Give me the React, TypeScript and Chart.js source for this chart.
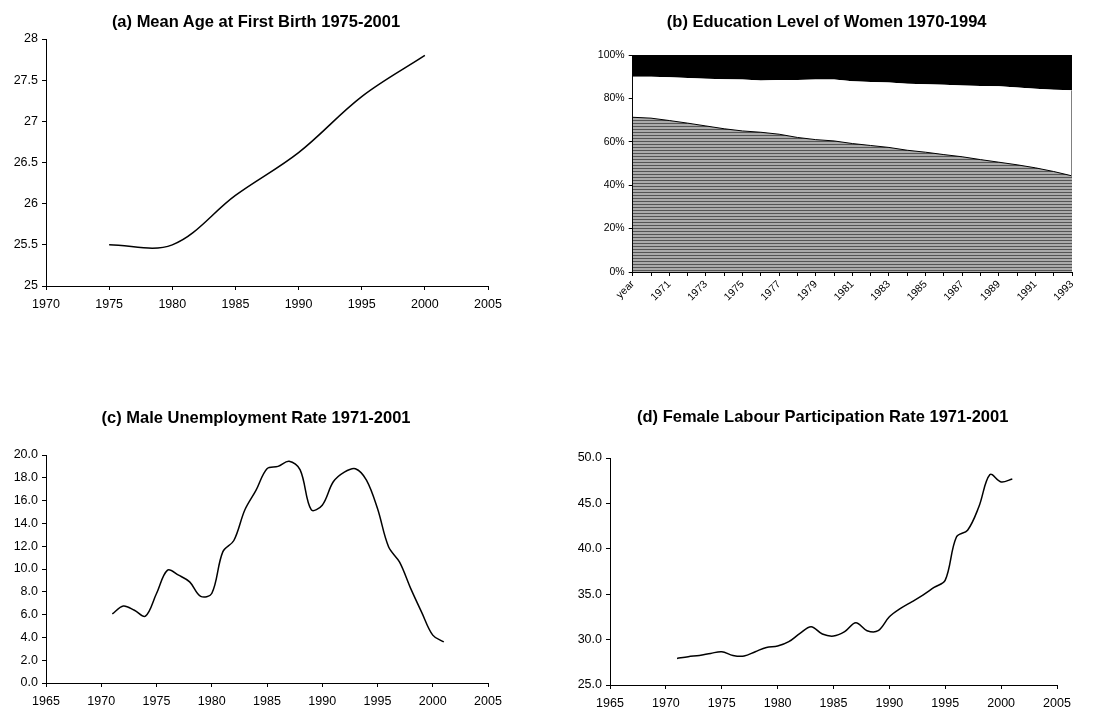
import React, { useEffect, useRef } from 'react';
import { Chart, registerables } from 'chart.js';

Chart.register(...registerables);

// ---------- (a) Mean age at first birth ----------
const ageYears = [1975, 1980, 1985, 1990, 1995, 2000];
const ageValues = [25.5, 25.5, 26.1, 26.62, 27.3, 27.8];

// ---------- (b) Education level of women (percent shares) ----------
const eduCategories = [
  'year', '1970', '1971', '1972', '1973', '1974', '1975', '1976', '1977', '1978', '1979', '1980',
  '1981', '1982', '1983', '1984', '1985', '1986', '1987', '1988', '1989', '1990', '1991', '1992', '1993',
];
const eduLowShare = [
  71.3, 70.9, 69.8, 68.6, 67.3, 66.0, 65.0, 64.4, 63.5, 62.0, 61.0, 60.4, 59.2,
  58.3, 57.4, 56.1, 55.2, 54.1, 53.1, 51.8, 50.6, 49.4, 48.0, 46.3, 44.3,
];
const eduMidShare = [
  18.7, 19.1, 19.9, 20.8, 21.8, 22.8, 23.7, 23.9, 25.0, 26.5, 27.7, 28.3, 28.7,
  29.3, 29.9, 30.6, 31.3, 32.2, 32.9, 33.9, 35.0, 35.6, 36.5, 37.7, 39.4,
];
const eduHighShare = [
  10.0, 10.0, 10.3, 10.6, 10.9, 11.2, 11.3, 11.7, 11.5, 11.5, 11.3, 11.3, 12.1,
  12.4, 12.7, 13.3, 13.5, 13.7, 14.0, 14.3, 14.4, 15.0, 15.5, 16.0, 16.3,
];
const eduTicks = [0, 20, 40, 60, 80, 100];

// ---------- (c) Male unemployment rate ----------
const unempYears = [
  1971, 1972, 1973, 1974, 1975, 1976, 1977, 1978, 1979, 1980, 1981, 1982, 1983, 1984, 1985, 1986,
  1987, 1988, 1989, 1990, 1991, 1992, 1993, 1994, 1995, 1996, 1997, 1998, 1999, 2000, 2001,
];
const unempValues = [
  6.06, 6.76, 6.38, 5.86, 7.85, 9.9, 9.46, 8.87, 7.6, 7.85, 11.5, 12.5, 15.2, 16.9, 18.8, 19.0,
  19.45, 18.7, 15.2, 15.6, 17.65, 18.5, 18.8, 17.8, 15.3, 11.95, 10.6, 8.3, 6.2, 4.2, 3.6,
];

// ---------- (d) Female labour participation rate ----------
const flprYears = [
  1971, 1972, 1973, 1974, 1975, 1976, 1977, 1978, 1979, 1980, 1981, 1982, 1983, 1984, 1985, 1986,
  1987, 1988, 1989, 1990, 1991, 1992, 1993, 1994, 1995, 1996, 1997, 1998, 1999, 2000, 2001,
];
const flprValues = [
  27.93, 28.12, 28.26, 28.48, 28.67, 28.26, 28.19, 28.67, 29.14, 29.29, 29.77, 30.68, 31.41, 30.61,
  30.39, 30.87, 31.85, 30.98, 30.98, 32.51, 33.43, 34.16, 34.9, 35.74, 36.55, 41.3, 42.05, 44.6,
  48.17, 47.36, 47.69,
];

const FONT_FAMILY = '"Liberation Sans", Arial, Helvetica, sans-serif';

const axisGrid = {
  display: true,
  drawOnChartArea: false,
  drawTicks: true,
  tickLength: 4,
  color: '#000',
  lineWidth: 1,
};
const axisBorder = { display: true, color: '#000', width: 1 };

const fixWidth = (w: number) => (scale: any) => {
  scale.width = w;
};
const fixHeight = (h: number) => (scale: any) => {
  scale.height = h;
};

function lineConfig(opts: {
  xs: number[];
  ys: number[];
  xMin: number;
  xMax: number;
  yMin: number;
  yMax: number;
  yStep: number;
  yFmt: (v: number) => string;
  padTop: number;
  padRight: number;
  yWidth: number;
  xHeight: number;
}) {
  return {
    type: 'line',
    data: {
      datasets: [
        {
          data: opts.xs.map((x, i) => ({ x, y: opts.ys[i] })),
          borderColor: '#000',
          borderWidth: 1.5,
          pointRadius: 0,
          tension: 0.35,
          fill: false,
        },
      ],
    },
    options: {
      animation: false,
      responsive: false,
      devicePixelRatio: 1,
      layout: { padding: { top: opts.padTop, right: opts.padRight, left: 0, bottom: 0 } },
      plugins: { legend: { display: false }, title: { display: false }, tooltip: { enabled: false } },
      scales: {
        x: {
          type: 'linear',
          min: opts.xMin,
          max: opts.xMax,
          grid: axisGrid,
          border: axisBorder,
          afterFit: fixHeight(opts.xHeight),
          ticks: {
            stepSize: 5,
            color: '#000',
            padding: 7,
            maxRotation: 0,
            font: { family: FONT_FAMILY, size: 12.5 },
            callback: (v: any) => String(v),
          },
        },
        y: {
          type: 'linear',
          min: opts.yMin,
          max: opts.yMax,
          grid: axisGrid,
          border: axisBorder,
          afterFit: fixWidth(opts.yWidth),
          ticks: {
            stepSize: opts.yStep,
            color: '#000',
            padding: 4,
            font: { family: FONT_FAMILY, size: 12.5 },
            callback: (v: any) => opts.yFmt(Number(v)),
          },
        },
      },
    },
  };
}

function makeStripePattern() {
  const c = document.createElement('canvas');
  c.width = 4;
  c.height = 3;
  const ctx = c.getContext('2d')!;
  ctx.fillStyle = '#ababab';
  ctx.fillRect(0, 0, 4, 3);
  ctx.fillStyle = '#555555';
  ctx.fillRect(0, 0, 4, 1);
  return ctx.createPattern(c, 'repeat');
}

const rightEdgePlugin = {
  id: 'rightEdge',
  afterDatasetsDraw(chart: any) {
    const { ctx, chartArea, scales } = chart;
    const last = eduLowShare.length - 1;
    const yLow = scales.y.getPixelForValue(eduLowShare[last]);
    const yUp = scales.y.getPixelForValue(eduLowShare[last] + eduMidShare[last]);
    ctx.save();
    ctx.strokeStyle = '#808080';
    ctx.lineWidth = 1;
    ctx.beginPath();
    ctx.moveTo(chartArea.right - 0.5, yUp);
    ctx.lineTo(chartArea.right - 0.5, yLow);
    ctx.stroke();
    ctx.restore();
  },
};

function eduConfig() {
  const stripes = makeStripePattern();
  return {
    type: 'line',
    data: {
      labels: eduCategories,
      datasets: [
        {
          data: eduLowShare,
          backgroundColor: stripes,
          borderColor: '#000',
          borderWidth: 1,
          pointRadius: 0,
          tension: 0,
          fill: 'origin',
        },
        {
          data: eduMidShare,
          backgroundColor: '#ffffff',
          borderColor: 'rgba(0,0,0,0)',
          borderWidth: 0,
          pointRadius: 0,
          tension: 0,
          fill: '-1',
        },
        {
          data: eduHighShare,
          backgroundColor: '#000000',
          borderColor: 'rgba(0,0,0,0)',
          borderWidth: 0,
          pointRadius: 0,
          tension: 0,
          fill: '-1',
        },
      ],
    },
    plugins: [rightEdgePlugin],
    options: {
      animation: false,
      responsive: false,
      devicePixelRatio: 1,
      layout: { padding: { top: 55, right: 27, left: 0, bottom: 0 } },
      plugins: { legend: { display: false }, title: { display: false }, tooltip: { enabled: false } },
      scales: {
        x: {
          type: 'category',
          offset: false,
          grid: axisGrid,
          border: axisBorder,
          afterFit: fixHeight(58),
          ticks: {
            autoSkip: false,
            minRotation: 45,
            maxRotation: 45,
            padding: 2,
            color: '#000',
            font: { family: FONT_FAMILY, size: 10.5 },
            callback: (_v: any, i: number) => (i % 2 === 0 ? eduCategories[i] : ''),
          },
        },
        y: {
          stacked: true,
          min: 0,
          max: 100,
          grid: axisGrid,
          border: axisBorder,
          afterFit: fixWidth(82.7),
          afterBuildTicks: (scale: any) => {
            scale.ticks = eduTicks.map((v) => ({ value: v }));
          },
          ticks: {
            color: '#000',
            padding: 4,
            font: { family: FONT_FAMILY, size: 10.5 },
            callback: (v: any) => `${v}%`,
          },
        },
      },
    },
  };
}

function Panel(props: { left: number; top: number; width: number; height: number; makeConfig: () => any }) {
  const ref = useRef<HTMLCanvasElement>(null);
  useEffect(() => {
    const chart = new Chart(ref.current as HTMLCanvasElement, props.makeConfig());
    return () => chart.destroy();
  }, []);
  return (
    <canvas
      ref={ref}
      width={props.width}
      height={props.height}
      style={{ position: 'absolute', left: props.left, top: props.top, width: props.width, height: props.height }}
    />
  );
}

function Title(props: { cx: number; cy: number; text: string }) {
  return (
    <div
      style={{
        position: 'absolute',
        left: props.cx - 300,
        top: props.cy - 10,
        width: 600,
        height: 20,
        lineHeight: '20px',
        textAlign: 'center',
        fontFamily: FONT_FAMILY,
        fontWeight: 'bold',
        fontSize: 16.5,
        color: '#000',
        whiteSpace: 'nowrap',
      }}
    >
      {props.text}
    </div>
  );
}

export default function App() {
  return (
    <div style={{ position: 'absolute', left: 0, top: 0, width: 1099, height: 712, background: '#fff', overflow: 'hidden' }}>
      <Panel
        left={0}
        top={0}
        width={550}
        height={330}
        makeConfig={() =>
          lineConfig({
            xs: ageYears,
            ys: ageValues,
            xMin: 1970,
            xMax: 2005,
            yMin: 25,
            yMax: 28,
            yStep: 0.5,
            yFmt: (v) => String(v),
            padTop: 39,
            padRight: 62,
            yWidth: 46,
            xHeight: 44,
          })
        }
      />
      <Panel left={550} top={0} width={549} height={330} makeConfig={eduConfig} />
      <Panel
        left={0}
        top={380}
        width={550}
        height={332}
        makeConfig={() =>
          lineConfig({
            xs: unempYears,
            ys: unempValues,
            xMin: 1965,
            xMax: 2005,
            yMin: 0,
            yMax: 20,
            yStep: 2,
            yFmt: (v) => v.toFixed(1),
            padTop: 75,
            padRight: 62,
            yWidth: 46,
            xHeight: 29,
          })
        }
      />
      <Panel
        left={550}
        top={380}
        width={549}
        height={332}
        makeConfig={() =>
          lineConfig({
            xs: flprYears,
            ys: flprValues,
            xMin: 1965,
            xMax: 2005,
            yMin: 25,
            yMax: 50,
            yStep: 5,
            yFmt: (v) => v.toFixed(1),
            padTop: 78,
            padRight: 42,
            yWidth: 60,
            xHeight: 27,
          })
        }
      />
      <Title cx={256} cy={21} text="(a) Mean Age at First Birth 1975-2001" />
      <Title cx={826.7} cy={21} text="(b) Education Level of Women 1970-1994" />
      <Title cx={256} cy={417} text="(c) Male Unemployment Rate 1971-2001" />
      <Title cx={822.7} cy={416} text="(d) Female Labour Participation Rate 1971-2001" />
    </div>
  );
}
